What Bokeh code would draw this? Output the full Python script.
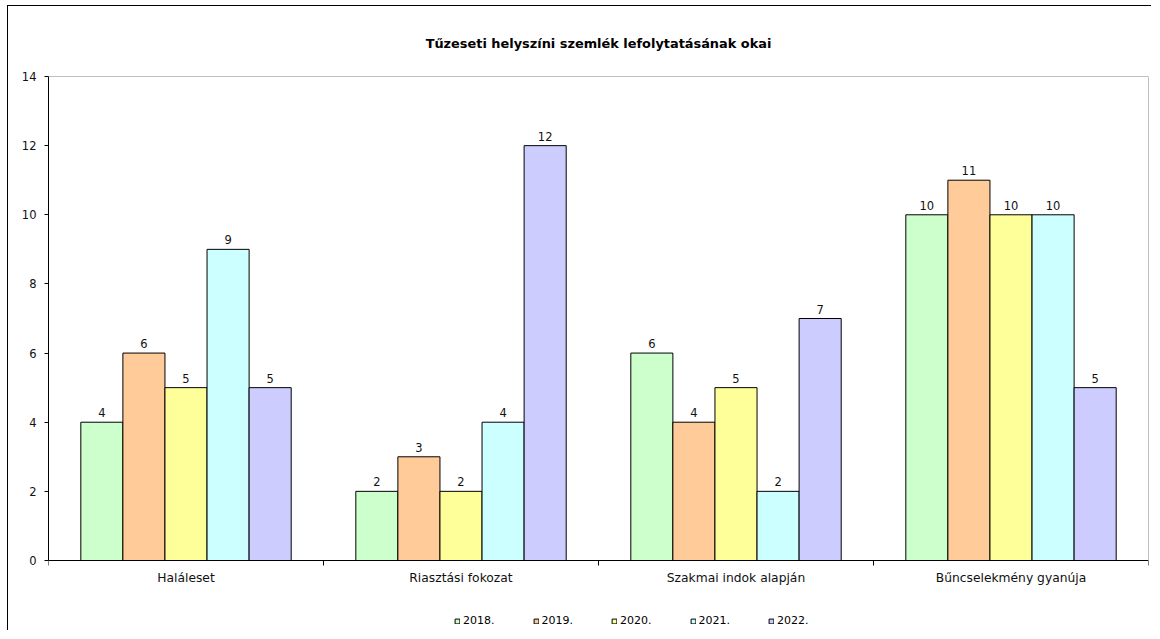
from bokeh.plotting import figure
from bokeh.models import (FixedTicker, Legend, LegendItem, ColumnDataSource, LabelSet, Title,
                          Range1d, LinearAxis, Span)
from bokeh.core.properties import value
from bokeh.embed import file_html
from bokeh.resources import INLINE

categories = ["Haláleset", "Riasztási fokozat", "Szakmai indok alapján", "Bűncselekmény gyanúja"]
years = ["2018.", "2019.", "2020.", "2021.", "2022."]
v2018 = [4, 2, 6, 10]
v2019 = [6, 3, 4, 11]
v2020 = [5, 2, 5, 10]
v2021 = [9, 4, 2, 10]
v2022 = [5, 12, 7, 5]
series = [v2018, v2019, v2020, v2021, v2022]
colors = ["#CCFFCC", "#FFCC99", "#FFFF99", "#CCFFFF", "#CCCCFF"]
y_ticks = [0, 2, 4, 6, 8, 10, 12, 14]
title_text = "Tűzeseti helyszíni szemlék lefolytatásának okai"

FONT = "DejaVu Sans"
BAR_W = 0.153
Y_MAX = 14
Y_MIN = Y_MAX - 555 / (484 / 14)   # frame extends below 0 to hold the legend

p = figure(width=1144, height=625, x_range=Range1d(0, 4), y_range=Range1d(Y_MIN, Y_MAX),
           output_backend="svg", toolbar_location=None,
           min_border_left=40, min_border_right=4, min_border_top=70, min_border_bottom=0)
p.styles = {"margin-left": "7px", "margin-top": "5px",
            "border-left": "1px solid #000000", "border-top": "1px solid #000000"}
p.background_fill_color = "white"
p.border_fill_color = "white"
p.outline_line_color = None
p.xgrid.visible = False
p.ygrid.visible = False

p.add_layout(Title(text=title_text, align="center", text_font=FONT, text_font_size="12.9px",
                   text_font_style="bold", text_color="#000000", standoff=52), "above")

# grey top and right edges of the plot area
p.add_layout(Span(location=Y_MAX, dimension="width", line_color="#808080", line_width=1))
right = LinearAxis(bounds=(0, Y_MAX), fixed_location=4, ticker=FixedTicker(ticks=[]),
                   axis_line_color="#808080", major_tick_line_color=None,
                   minor_tick_line_color=None, major_label_text_font_size="0px")
p.add_layout(right, "right")

items = []
for i, (vals, col, yr) in enumerate(zip(series, colors, years)):
    xs = [k + 0.5 + (i - 2) * BAR_W for k in range(len(categories))]
    src = ColumnDataSource(dict(x=xs, top=vals, lbl=[str(v) for v in vals]))
    r = p.vbar(x="x", top="top", bottom=0, width=BAR_W, source=src, fill_color=col,
               line_color="#000000", line_width=1)
    items.append(LegendItem(label=yr, renderers=[r]))
    p.add_layout(LabelSet(x="x", y="top", text="lbl", source=src, y_offset=5,
                          text_align="center", text_baseline="bottom",
                          text_font=value(FONT), text_font_size="11.5px",
                          text_color="#111111"))

xa = p.xaxis[0]
xa.fixed_location = 0
xa.ticker = FixedTicker(ticks=[k + 0.5 for k in range(len(categories))],
                        minor_ticks=list(range(len(categories) + 1)))
xa.major_label_overrides = {k + 0.5: c for k, c in enumerate(categories)}
xa.major_tick_line_color = None
xa.minor_tick_line_color = "#000000"
xa.minor_tick_in = 0
xa.minor_tick_out = 5
xa.axis_line_color = "#000000"
xa.major_label_text_font = FONT
xa.major_label_text_font_size = "12.3px"
xa.major_label_text_color = "#111111"
xa.major_label_standoff = 4

ya = p.yaxis[0]
ya.bounds = (0, Y_MAX)
ya.ticker = FixedTicker(ticks=y_ticks)
ya.minor_tick_line_color = None
ya.major_tick_in = 0
ya.major_tick_out = 4
ya.axis_line_color = "#000000"
ya.major_tick_line_color = "#000000"
ya.major_label_text_font = FONT
ya.major_label_text_font_size = "11.5px"
ya.major_label_text_color = "#111111"
ya.major_label_standoff = 8

legend = Legend(items=items, orientation="horizontal", location=(406, 4),
                glyph_width=6, glyph_height=6, label_standoff=3, spacing=38,
                label_text_font=FONT, label_text_font_size="11px",
                label_text_color="#000000", border_line_color=None,
                background_fill_alpha=0, padding=0, margin=0)
p.add_layout(legend)

open("out.html", "w").write(file_html(p, INLINE))
